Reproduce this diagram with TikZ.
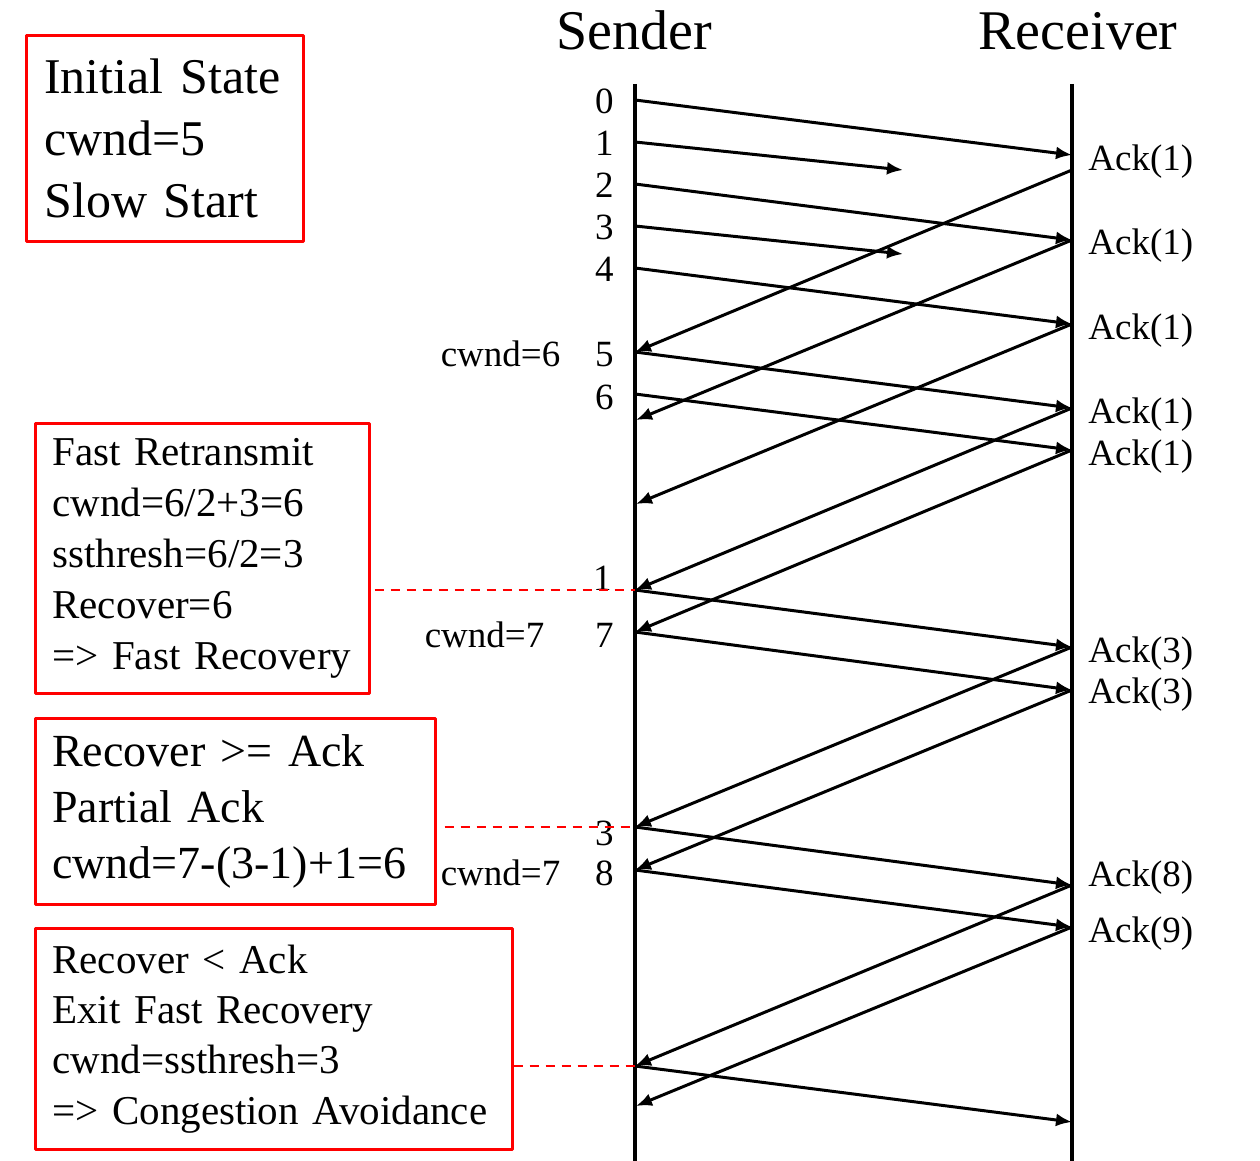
\documentclass[tikz,border=0pt]{standalone}
\usepackage{fontspec}
\setmainfont{Liberation Serif}
\usepackage{tikz}
\usetikzlibrary{arrows.meta, positioning, calc}

\begin{document}
\begin{tikzpicture}[>={Latex[length=8pt,width=6.5pt]}, line join=bevel, x=0.5pt, y=-0.5pt,
  life/.style={line width=1.6pt},
  seg/.style={->, line width=1.5pt},
  note/.style={draw=red, line width=1.3pt, align=left, anchor=north west, inner ysep=0pt},
  tie/.style={red, line width=1.1pt, dash pattern=on 4.8pt off 3.2pt},
  num/.style={font=\fontsize{18.5}{22}\selectfont, inner sep=0pt},
  head/.style={font=\fontsize{28}{34}\selectfont, inner sep=0pt, anchor=base}]
\useasboundingbox (0,0) rectangle (1260,1161);
%%
  % Node: headers
  \node[head] (snd) at (634,50) {Sender};
  \node[head] (rcv) at (1078,50) {Receiver};
  % Lifelines
  \coordinate (stop) at (635,84);
  \coordinate (sbot) at (635,1161);
  \coordinate (rtop) at (1072,84);
  \coordinate (rbot) at (1072,1161);
  \draw[life] (stop) -- (sbot);
  \draw[life] (rtop) -- (rbot);
%%
  % Sender events
  \coordinate (s0) at (635,100);
  \coordinate (s1) at (635,142);
  \coordinate (s2) at (635,184);
  \coordinate (s3) at (635,226);
  \coordinate (s4) at (635,268);
  \coordinate (s5) at (635,352);
  \coordinate (s6) at (635,394);
  \coordinate (a2) at (636,420);
  \coordinate (a3) at (636,504);
  \coordinate (s1r) at (635,590);
  \coordinate (s7) at (635,632);
  \coordinate (s3r) at (635,827);
  \coordinate (s8) at (635,870);
  \coordinate (s9) at (635,1066);
  \coordinate (a9) at (636,1106);
  % Receiver events
  \coordinate (r0) at (1072,155);
  \coordinate (k0) at (1072,170);
  \coordinate (r2) at (1072,240);
  \coordinate (r4) at (1072,324);
  \coordinate (r5) at (1072,408);
  \coordinate (r6) at (1072,450);
  \coordinate (r1r) at (1072,647);
  \coordinate (r7) at (1072,690);
  \coordinate (r3r) at (1072,885);
  \coordinate (r8) at (1072,927);
  \coordinate (r9) at (1072,1122);
  % Lost segments
  \coordinate (x1) at (903,170);
  \coordinate (x3) at (903,254);
%%
  % Edge: data segments
  \draw[seg] (s0) -- (r0);
  \draw[seg] (s1) -- (x1);
  \draw[seg] (s2) -- (r2);
  \draw[seg] (s3) -- (x3);
  \draw[seg] (s4) -- (r4);
  \draw[seg] (s5) -- (r5);
  \draw[seg] (s6) -- (r6);
  \draw[seg] (s1r) -- (r1r);
  \draw[seg] (s7) -- (r7);
  \draw[seg] (s3r) -- (r3r);
  \draw[seg] (s8) -- (r8);
  \draw[seg] (s9) -- (r9);
  % Edge: acks
  \draw[seg] (k0) -- (s5);
  \draw[seg] (r2) -- (a2);
  \draw[seg] (r4) -- (a3);
  \draw[seg] (r5) -- (s1r);
  \draw[seg] (r6) -- (s7);
  \draw[seg] (r1r) -- (s3r);
  \draw[seg] (r7) -- (s8);
  \draw[seg] (r3r) -- (s9);
  \draw[seg] (r8) -- (a9);
%%
  % Node: sequence numbers
  \node[num, anchor=base east] (n0) at (614,114) {0};
  \node[num, anchor=base east] (n1) at (614,156) {1};
  \node[num, anchor=base east] (n2) at (614,198) {2};
  \node[num, anchor=base east] (n3) at (614,240) {3};
  \node[num, anchor=base east] (n4) at (614,282) {4};
  \node[num, anchor=base east] (n5) at (614,366) {5};
  \node[num, anchor=base east] (n6) at (614,409) {6};
  \node[num, anchor=base east] (n1r) at (612,590) {1};
  \node[num, anchor=base east] (n7) at (614,647) {7};
  \node[num, anchor=base east] (n3r) at (614,845) {3};
  \node[num, anchor=base east] (n8) at (614,885) {8};
  \node[num, base left=17pt of n5] (w6) {cwnd=6};
  \node[num, base left=25pt of n7] (w7) {cwnd=7};
  \node[num, base left=17pt of n8] (w7b) {cwnd=7};
  % Node: ack labels
  \node[num, anchor=base west] (k1a) at (1088,171) {Ack(1)};
  \node[num, anchor=base west] (k1b) at (1088,255) {Ack(1)};
  \node[num, anchor=base west] (k1c) at (1088,339) {Ack(1)};
  \node[num, anchor=base west] (k1d) at (1088,423) {Ack(1)};
  \node[num, anchor=base west] (k1e) at (1088,465) {Ack(1)};
  \node[num, anchor=base west] (k3a) at (1088,662) {Ack(3)};
  \node[num, anchor=base west] (k3b) at (1088,703) {Ack(3)};
  \node[num, anchor=base west] (k8) at (1088,886) {Ack(8)};
  \node[num, anchor=base west] (k9) at (1088,942) {Ack(9)};
%%
  % Node: state boxes
  \node[note, minimum width=138.5pt, minimum height=103pt, text width=120.5pt, inner xsep=9pt,
    font=\fontsize{25}{31}\selectfont] (init) at (25,34)
    {Initial State\\cwnd=5\\Slow Start};
  \node[note, minimum width=167pt, minimum height=135pt, text width=150pt, inner xsep=8.5pt,
    font=\fontsize{20.5}{25.5}\selectfont] (fr) at (34,422)
    {\mbox{Fast Retransmit}\\cwnd=6/2+3=6\\ssthresh=6/2=3\\Recover=6\\\mbox{=> Fast Recovery}};
  \node[note, minimum width=200pt, minimum height=93pt, text width=183pt, inner xsep=8.5pt,
    font=\fontsize{23}{28}\selectfont] (pa) at (34,717)
    {\mbox{Recover >= Ack}\\Partial Ack\\cwnd=7-(3-1)+1=6};
  \node[note, minimum width=238.5pt, minimum height=110.5pt, text width=221.5pt, inner xsep=8.5pt,
    font=\fontsize{20.5}{25.2}\selectfont] (ex) at (34,927)
    {\mbox{Recover < Ack}\\\mbox{Exit Fast Recovery}\\cwnd=ssthresh=3\\\mbox{=> Congestion Avoidance}};
  % Edge: box -- sender
  \draw[tie] ([xshift=2pt]fr.east |- s1r) -- (s1r);
  \draw[tie] ([xshift=4pt]pa.east |- s3r) -- (s3r);
  \draw[tie] (ex.east |- s9) -- (s9);
%
\end{tikzpicture}
\end{document}
